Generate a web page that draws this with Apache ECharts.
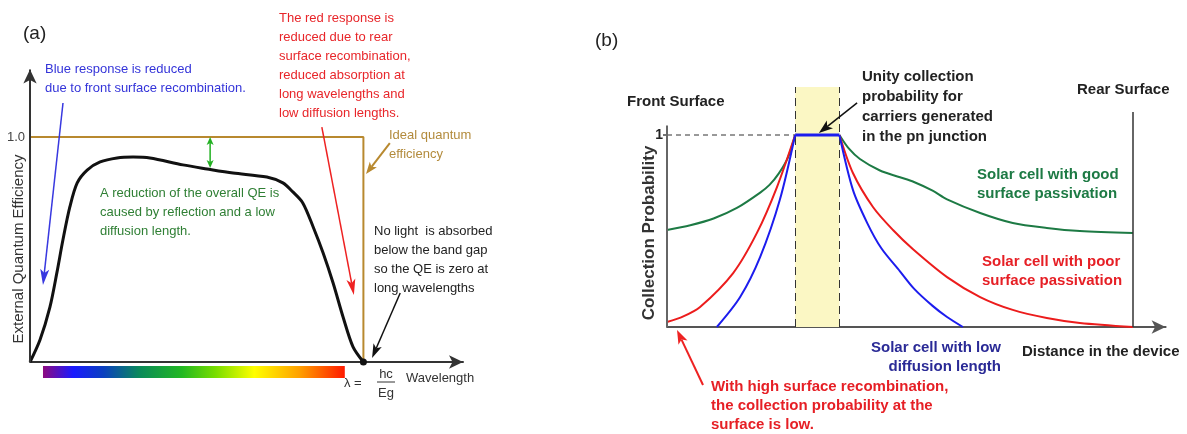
<!DOCTYPE html>
<html>
<head>
<meta charset="utf-8">
<script src="https://cdn.jsdelivr.net/npm/echarts@6/dist/echarts.min.js"></script>
<style>
  html, body { margin: 0; padding: 0; background: #fff; }
  #chart { width: 1187px; height: 434px; }
</style>
</head>
<body>
<div id="chart"></div>
<script>
// ---------- (a) External quantum efficiency vs wavelength ----------
// Wavelength on an arbitrary 0–100 scale; the band-gap edge sits at BAND_GAP.
const BAND_GAP = 77;
const qeWavelength = [0, 2.3, 4.6, 6.2, 7.6, 9.2, 10.9, 13.2, 16.2, 20.1, 23.8, 27.7, 35.3, 40.9, 46.9, 54.7, 58.4, 60.7, 63.0, 65.4, 67.7, 70.0, 72.3, 74.6, 77];
const qeValue      = [0, 0.098, 0.244, 0.396, 0.542, 0.689, 0.796, 0.853, 0.889, 0.907, 0.911, 0.907, 0.876, 0.858, 0.84, 0.822, 0.796, 0.756, 0.707, 0.6, 0.484, 0.351, 0.2, 0.067, 0];
const idealWavelength = [0, BAND_GAP, BAND_GAP];
const idealValue      = [1, 1, 0];
const visibleSpectrum = [3.0, 72.7];

// ---------- (b) Collection probability vs distance in the device ----------
// Front surface at 0, rear surface at 100, pn junction between junctionEdges.
const junctionEdges = [27.5, 37];
const rearSurface = 100;
const goodLeftX  = [0, 5, 10, 15, 20, 22, 24, 26, 27.5];
const goodLeftY  = [0.505, 0.53, 0.565, 0.62, 0.70, 0.74, 0.80, 0.885, 1];
const goodRightX = [37, 39, 41.4, 45.7, 50, 53, 57, 60.1, 67.2, 74.2, 81.5, 88.6, 100];
const goodRightY = [1, 0.93, 0.875, 0.815, 0.78, 0.755, 0.71, 0.665, 0.594, 0.542, 0.516, 0.5, 0.49];
const poorLeftX  = [0, 3.5, 7.1, 14.2, 19.3, 23.6, 27.5];
const poorLeftY  = [0.026, 0.055, 0.104, 0.281, 0.49, 0.729, 1];
const poorRightX = [37, 39.9, 44.2, 48.5, 52.8, 60.1, 67.2, 74.2, 81.5, 88.6, 100];
const poorRightY = [1, 0.802, 0.625, 0.505, 0.405, 0.26, 0.156, 0.089, 0.047, 0.021, 0];
const lowLeftX   = [10.7, 15.7, 20, 24.2, 27.5];
const lowLeftY   = [0, 0.156, 0.365, 0.661, 1];
const lowTopX    = [27.5, 37];
const lowTopY    = [1, 1];
const lowRightX  = [37, 39.9, 43, 46, 50, 53, 57, 60.1, 63.5];
const lowRightY  = [1, 0.714, 0.54, 0.41, 0.29, 0.2, 0.11, 0.052, 0];

const zip = (xs, ys) => xs.map((x, i) => [x, ys[i]]);

const FONT = '"Liberation Sans", Arial, Helvetica, sans-serif';
const font = (size, bold) => (bold ? 'bold ' : '') + size + 'px ' + FONT;

const BROWN = '#b8892f';
const GREEN = '#1d7a44';
const RED = '#ec1c1c';
const BLUE = '#1c1cee';

// Annotation arrows, in each panel's data coordinates; the head sits at `to`.
const arrowsA = [
  { from: [7.62, 1.151], to: [3.0, 0.342],  color: '#3838e0', width: 1.5, head: [9, 16] },
  { from: [67.4, 1.044], to: [74.8, 0.298], color: '#ee2222', width: 1.5, head: [9, 16] },
  { from: [83.1, 0.973], to: [77.6, 0.836], color: BROWN,     width: 2,   head: [9, 12] },
  { from: [85.5, 0.307], to: [79.0, 0.018], color: '#111',    width: 1.5, head: [9, 14] },
  { from: [41.6, 1.0],   to: [41.6, 0.862], color: '#22b022', width: 1.5, head: [7, 8], both: true }
];
const arrowsB = [
  { from: [40.8, 1.167], to: [32.6, 1.010],  color: '#111',    width: 1.5, head: [10, 14] },
  { from: [7.73, -0.302], to: [2.15, -0.016], color: '#ee2222', width: 2,   head: [10, 14] }
];

// Custom-series renderer: shaft plus notched arrow head(s).
function arrowRenderer(list) {
  return function (params, api) {
    const a = list[params.dataIndex];
    const p0 = api.coord([api.value(0), api.value(1)]);
    const p1 = api.coord([api.value(2), api.value(3)]);
    const children = [];
    function head(tip, tail) {
      const dx = tip[0] - tail[0], dy = tip[1] - tail[1];
      const len = Math.sqrt(dx * dx + dy * dy) || 1;
      const ux = dx / len, uy = dy / len, px = -uy, py = ux;
      const L = a.head[1], W = a.head[0] / 2;
      const base = [tip[0] - ux * L, tip[1] - uy * L];
      const notch = [tip[0] - ux * L * 0.75, tip[1] - uy * L * 0.75];
      children.push({
        type: 'polygon',
        shape: { points: [tip, [base[0] + px * W, base[1] + py * W], notch, [base[0] - px * W, base[1] - py * W]] },
        style: { fill: a.color }
      });
      return notch;
    }
    const end = head(p1, p0);
    const start = a.both ? head(p0, p1) : p0;
    children.unshift({
      type: 'line', shape: { x1: start[0], y1: start[1], x2: end[0], y2: end[1] },
      style: { stroke: a.color, lineWidth: a.width }
    });
    return { type: 'group', children: children };
  };
}

function arrowSeries(name, list, axisIndex) {
  return {
    name: name, type: 'custom', xAxisIndex: axisIndex, yAxisIndex: axisIndex, z: 10, clip: false, silent: true,
    encode: { x: [0, 2], y: [1, 3] },
    data: list.map(a => [a.from[0], a.from[1], a.to[0], a.to[1]]),
    renderItem: arrowRenderer(list)
  };
}

function textBlock(x, y, text, color, size, bold, lineHeight, align) {
  return {
    type: 'text', x: x, y: y, silent: true,
    style: {
      text: text, fill: color, font: font(size, bold), lineHeight: lineHeight,
      align: align || 'left', textAlign: align || 'left',
      verticalAlign: 'top', textVerticalAlign: 'top'
    }
  };
}

function curve(name, xs, ys, color, width, z, smooth) {
  return {
    name: name, type: 'line', xAxisIndex: 1, yAxisIndex: 1, z: z,
    data: zip(xs, ys), symbol: 'none', smooth: smooth,
    lineStyle: { color: color, width: width }
  };
}

const chart = echarts.init(document.getElementById('chart'), null, { renderer: 'canvas' });

const option = {
  animation: false,
  backgroundColor: '#ffffff',
  textStyle: { fontFamily: FONT },
  grid: [
    { left: 30, top: 69.5, width: 433, height: 360 },
    { left: 667, top: 87, width: 498.6, height: 336 }
  ],
  xAxis: [
    {
      gridIndex: 0, type: 'value', min: 0, max: 100,
      axisLine: { onZero: true, symbol: ['none', 'arrow'], symbolSize: [10, 14], lineStyle: { color: '#333', width: 2 } },
      axisTick: { show: false }, axisLabel: { show: false }, splitLine: { show: false }
    },
    {
      gridIndex: 1, type: 'value', min: 0, max: 107,
      axisLine: { onZero: true, symbol: ['none', 'arrow'], symbolSize: [10, 14], lineStyle: { color: '#555', width: 2 } },
      axisTick: { show: false }, axisLabel: { show: false }, splitLine: { show: false }
    }
  ],
  yAxis: [
    {
      gridIndex: 0, type: 'value', min: -0.3, max: 1.3, interval: 0.1,
      axisLine: { show: false }, axisTick: { show: false }, splitLine: { show: false },
      axisLabel: { customValues: [1], formatter: v => v.toFixed(1), color: '#444', fontSize: 13, margin: 5 }
    },
    {
      gridIndex: 1, type: 'value', min: -0.5, max: 1.25, interval: 0.25,
      axisLine: { show: false }, splitLine: { show: false },
      axisTick: { show: true, customValues: [1], length: 4, lineStyle: { color: '#444', width: 1.5 } },
      axisLabel: { customValues: [1], formatter: v => String(v), color: '#222', fontSize: 14, fontWeight: 'bold', margin: 4 }
    }
  ],
  series: [
    // ----- panel (a) -----
    {
      name: 'Ideal quantum efficiency', type: 'line', xAxisIndex: 0, yAxisIndex: 0, z: 2,
      data: zip(idealWavelength, idealValue), symbol: 'none',
      lineStyle: { color: BROWN, width: 2 }
    },
    {
      name: 'External quantum efficiency', type: 'line', xAxisIndex: 0, yAxisIndex: 0, z: 3, clip: false,
      data: zip(qeWavelength, qeValue), symbol: 'none', smooth: 0.3,
      lineStyle: { color: '#111', width: 3 },
      markPoint: {
        silent: true, symbol: 'circle', symbolSize: 7, itemStyle: { color: '#111' }, label: { show: false },
        data: [{ coord: [BAND_GAP, 0] }]
      },
      markArea: {
        silent: true, label: { show: false },
        itemStyle: {
          color: {
            type: 'linear', x: 0, y: 0, x2: 1, y2: 0,
            colorStops: [
              { offset: 0, color: '#8e0a80' }, { offset: 0.1, color: '#1a1aff' },
              { offset: 0.2, color: '#0a3fc0' }, { offset: 0.32, color: '#0a8a5a' },
              { offset: 0.46, color: '#22b822' }, { offset: 0.57, color: '#77dd00' },
              { offset: 0.7, color: '#ffff00' }, { offset: 0.85, color: '#ffa000' },
              { offset: 1, color: '#ff1a00' }
            ]
          }
        },
        data: [[{ coord: [visibleSpectrum[0], -0.018] }, { coord: [visibleSpectrum[1], -0.071] }]]
      },
      markLine: {
        silent: true, label: { show: false }, symbol: ['none', 'none'],
        data: [
          // vertical axis with arrow head
          [{ coord: [0, 0], symbol: 'none' },
           { coord: [0, 1.3], symbol: 'arrow', symbolSize: [10, 14], lineStyle: { color: '#333', width: 2, type: 'solid' } }]
        ]
      }
    },
    arrowSeries('Annotations (a)', arrowsA, 0),
    // ----- panel (b) -----
    {
      name: 'Unity level', type: 'line', xAxisIndex: 1, yAxisIndex: 1, z: 1,
      data: [[0, 1], [junctionEdges[0], 1]], symbol: 'none',
      lineStyle: { color: '#333', width: 1, type: [5, 4] },
      markArea: {
        silent: true, label: { show: false }, itemStyle: { color: '#fbf7c4' },
        data: [[{ coord: [junctionEdges[0], 0] }, { coord: [junctionEdges[1], 1.25] }]]
      }
    },
    Object.assign(curve('Good surface passivation (front)', goodLeftX, goodLeftY, GREEN, 2, 3, 0.3), {
      markLine: {
        silent: true, label: { show: false }, symbol: ['none', 'none'],
        data: [
          [{ coord: [junctionEdges[0], 0] }, { coord: [junctionEdges[0], 1.25], lineStyle: { color: '#333', width: 1, type: [8, 5] } }],
          [{ coord: [junctionEdges[1], 0] }, { coord: [junctionEdges[1], 1.25], lineStyle: { color: '#333', width: 1, type: [8, 5] } }],
          [{ coord: [0, 0] }, { coord: [0, 1.05], lineStyle: { color: '#666', width: 2, type: 'solid' } }],
          [{ coord: [rearSurface, 0] }, { coord: [rearSurface, 1.12], lineStyle: { color: '#333', width: 1.5, type: 'solid' } }]
        ]
      }
    }),
    curve('Good surface passivation (rear)', goodRightX, goodRightY, GREEN, 2, 3, 0.3),
    curve('Poor surface passivation (front)', poorLeftX, poorLeftY, RED, 2, 4, 0.3),
    curve('Poor surface passivation (rear)', poorRightX, poorRightY, RED, 2, 4, 0.3),
    curve('Low diffusion length (front)', lowLeftX, lowLeftY, BLUE, 2, 5, 0.3),
    curve('Low diffusion length (junction)', lowTopX, lowTopY, BLUE, 3, 5, false),
    curve('Low diffusion length (rear)', lowRightX, lowRightY, BLUE, 2, 5, 0.3),
    arrowSeries('Annotations (b)', arrowsB, 1)
  ],
  graphic: [
    // panel (a)
    textBlock(23, 23, '(a)', '#222', 19, false, 22),
    textBlock(45, 59.5, 'Blue response is reduced\ndue to front surface recombination.', '#3434d9', 13, false, 19),
    textBlock(279, 8.5, 'The red response is\nreduced due to rear\nsurface recombination,\nreduced absorption at\nlong wavelengths and\nlow diffusion lengths.', '#e8262a', 13, false, 19),
    textBlock(389, 125.5, 'Ideal quantum\nefficiency', '#b38b3c', 13, false, 19),
    textBlock(100, 183.5, 'A reduction of the overall QE is\ncaused by reflection and a low\ndiffusion length.', '#2f7f34', 13, false, 19),
    textBlock(374, 221.5, 'No light  is absorbed\nbelow the band gap\nso the QE is zero at\nlong wavelengths', '#222', 13, false, 19),
    textBlock(344, 375, 'λ =', '#333', 13, false, 16),
    textBlock(386, 367, 'hc', '#333', 13, false, 14, 'center'),
    { type: 'line', silent: true, shape: { x1: 377, y1: 382, x2: 395, y2: 382 }, style: { stroke: '#333', lineWidth: 1 } },
    textBlock(386, 386, 'Eg', '#333', 13, false, 14, 'center'),
    textBlock(406, 370, 'Wavelength', '#333', 13, false, 16),
    {
      type: 'text', x: 19, y: 249, rotation: Math.PI / 2, silent: true,
      style: { text: 'External Quantum Efficiency', fill: '#333', font: font(15, false),
               align: 'center', textAlign: 'center', verticalAlign: 'middle', textVerticalAlign: 'middle' }
    },
    // panel (b)
    textBlock(595, 30, '(b)', '#222', 19, false, 22),
    textBlock(627, 92.5, 'Front Surface', '#222', 15, true, 19),
    textBlock(862, 67, 'Unity collection\nprobability for\ncarriers generated\nin the pn junction', '#222', 15, true, 20),
    textBlock(1077, 80.5, 'Rear Surface', '#222', 15, true, 19),
    textBlock(977, 165.5, 'Solar cell with good\nsurface passivation', GREEN, 15, true, 19),
    textBlock(982, 252.5, 'Solar cell with poor\nsurface passivation', '#e61f25', 15, true, 19),
    textBlock(1001, 338.5, 'Solar cell with low\ndiffusion length', '#2a2a96', 15, true, 19, 'right'),
    textBlock(1022, 342.5, 'Distance in the device', '#222', 15, true, 19),
    textBlock(711, 377.5, 'With high surface recombination,\nthe collection probability at the\nsurface is low.', '#e61f25', 15, true, 19),
    {
      type: 'text', x: 649, y: 233, rotation: Math.PI / 2, silent: true,
      style: { text: 'Collection Probability', fill: '#333', font: font(17, true),
               align: 'center', textAlign: 'center', verticalAlign: 'middle', textVerticalAlign: 'middle' }
    }
  ]
};

chart.setOption(option);
</script>
</body>
</html>
